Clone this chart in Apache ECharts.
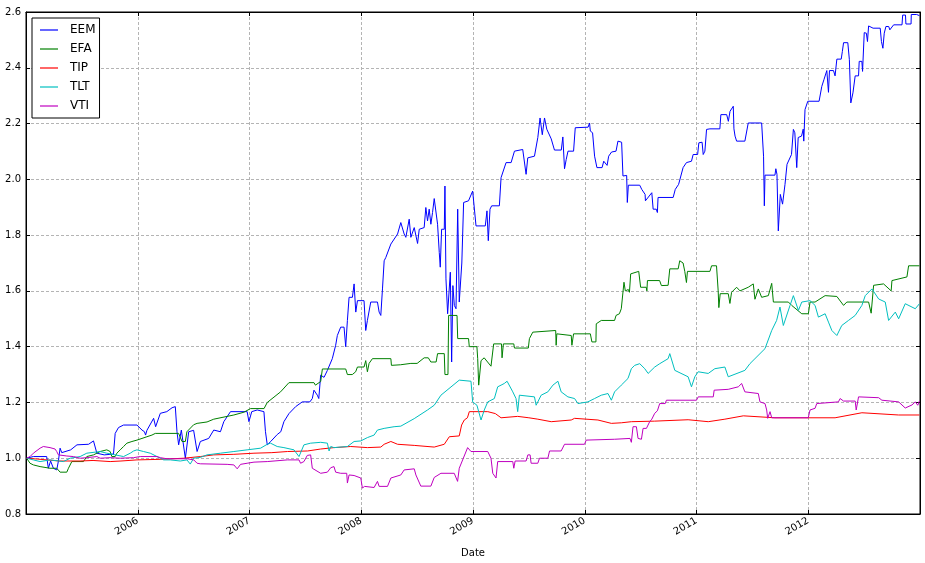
<!DOCTYPE html>
<html>
<head>
<meta charset="utf-8">
<script src="https://cdn.jsdelivr.net/npm/echarts@6/dist/echarts.min.js"></script>
<style>html,body{margin:0;padding:0;background:#fff;}#c{width:925px;height:563px;}</style>
</head>
<body>
<div id="c"></div>
<script>
// x = date as decimal year, y = cumulative value
const seriesNames = ['EEM', 'EFA', 'TIP', 'TLT', 'VTI'];
const yTicks = [0.8, 1.0, 1.2, 1.4, 1.6, 1.8, 2.0, 2.2, 2.4, 2.6];
const xTickYears = [2006, 2007, 2008, 2009, 2010, 2011, 2012];

const eem = [[2005.006,1.000],[2005.066,1.006],[2005.185,1.006],[2005.200,0.964],[2005.220,0.990],[2005.245,0.964],[2005.275,0.958],[2005.290,0.990],[2005.305,1.036],[2005.320,1.020],[2005.335,1.024],[2005.400,1.030],[2005.456,1.048],[2005.560,1.050],[2005.604,1.062],[2005.634,1.018],[2005.700,1.012],[2005.783,1.015],[2005.798,1.089],[2005.828,1.110],[2005.873,1.119],[2005.993,1.119],[2006.038,1.101],[2006.060,1.095],[2006.070,1.083],[2006.082,1.100],[2006.142,1.143],[2006.160,1.113],[2006.202,1.161],[2006.260,1.167],[2006.307,1.181],[2006.336,1.185],[2006.351,1.095],[2006.366,1.048],[2006.390,1.101],[2006.426,1.000],[2006.456,1.095],[2006.500,1.100],[2006.531,1.024],[2006.560,1.060],[2006.635,1.071],[2006.680,1.101],[2006.740,1.095],[2006.770,1.131],[2006.830,1.167],[2006.979,1.167],[2006.995,1.131],[2007.020,1.167],[2007.069,1.173],[2007.129,1.167],[2007.143,1.095],[2007.159,1.048],[2007.190,1.060],[2007.248,1.085],[2007.280,1.095],[2007.308,1.131],[2007.353,1.160],[2007.413,1.185],[2007.472,1.202],[2007.540,1.202],[2007.562,1.214],[2007.577,1.244],[2007.607,1.226],[2007.620,1.214],[2007.637,1.298],[2007.667,1.290],[2007.697,1.315],[2007.741,1.357],[2007.771,1.405],[2007.786,1.440],[2007.816,1.470],[2007.846,1.470],[2007.861,1.400],[2007.876,1.494],[2007.891,1.577],[2007.921,1.577],[2007.936,1.625],[2007.951,1.524],[2007.966,1.565],[2008.025,1.565],[2008.040,1.458],[2008.055,1.494],[2008.085,1.560],[2008.145,1.560],[2008.160,1.524],[2008.175,1.512],[2008.190,1.607],[2008.205,1.708],[2008.220,1.720],[2008.265,1.768],[2008.325,1.804],[2008.354,1.845],[2008.384,1.804],[2008.399,1.792],[2008.429,1.857],[2008.444,1.792],[2008.474,1.827],[2008.489,1.827],[2008.504,1.770],[2008.519,1.821],[2008.563,1.827],[2008.578,1.899],[2008.593,1.851],[2008.608,1.893],[2008.623,1.839],[2008.638,1.881],[2008.653,1.931],[2008.668,1.931],[2008.683,1.839],[2008.698,1.738],[2008.707,1.685],[2008.719,1.821],[2008.743,1.821],[2008.749,1.976],[2008.758,1.643],[2008.773,1.518],[2008.797,1.667],[2008.809,1.345],[2008.820,1.619],[2008.833,1.548],[2008.848,1.536],[2008.863,1.893],[2008.877,1.560],[2008.900,1.700],[2008.916,1.917],[2008.960,1.923],[2008.997,1.958],[2009.012,1.958],[2009.027,1.833],[2009.110,1.833],[2009.125,1.887],[2009.137,1.780],[2009.152,1.893],[2009.167,1.905],[2009.236,1.905],[2009.251,2.006],[2009.296,2.060],[2009.341,2.060],[2009.371,2.101],[2009.445,2.107],[2009.475,2.018],[2009.490,2.077],[2009.550,2.083],[2009.580,2.150],[2009.600,2.220],[2009.620,2.160],[2009.640,2.220],[2009.660,2.180],[2009.700,2.145],[2009.729,2.105],[2009.790,2.105],[2009.804,2.152],[2009.819,2.038],[2009.834,2.071],[2009.850,2.101],[2009.900,2.101],[2009.915,2.185],[2010.030,2.187],[2010.043,2.202],[2010.050,2.173],[2010.070,2.167],[2010.088,2.083],[2010.109,2.042],[2010.155,2.042],[2010.170,2.065],[2010.200,2.050],[2010.214,2.083],[2010.240,2.098],[2010.280,2.101],[2010.297,2.137],[2010.330,2.133],[2010.342,2.012],[2010.375,2.014],[2010.381,1.917],[2010.390,1.979],[2010.492,1.979],[2010.510,1.964],[2010.540,1.946],[2010.543,1.923],[2010.600,1.952],[2010.612,1.893],[2010.640,1.893],[2010.650,1.881],[2010.656,1.935],[2010.791,1.935],[2010.810,1.964],[2010.840,1.982],[2010.880,2.042],[2010.910,2.060],[2010.955,2.065],[2010.970,2.089],[2011.010,2.089],[2011.021,2.131],[2011.050,2.133],[2011.060,2.089],[2011.075,2.101],[2011.090,2.179],[2011.120,2.181],[2011.209,2.181],[2011.218,2.232],[2011.270,2.232],[2011.285,2.208],[2011.300,2.244],[2011.315,2.244],[2011.329,2.262],[2011.335,2.181],[2011.345,2.155],[2011.359,2.137],[2011.433,2.137],[2011.463,2.202],[2011.583,2.202],[2011.600,2.083],[2011.607,1.905],[2011.613,2.015],[2011.702,2.015],[2011.710,2.038],[2011.720,2.018],[2011.732,1.815],[2011.750,1.946],[2011.770,1.911],[2011.792,1.982],[2011.810,2.054],[2011.850,2.089],[2011.867,2.179],[2011.880,2.167],[2011.897,2.042],[2011.910,2.150],[2011.940,2.155],[2011.955,2.180],[2011.960,2.137],[2011.971,2.250],[2011.996,2.280],[2012.097,2.280],[2012.121,2.333],[2012.140,2.357],[2012.166,2.390],[2012.181,2.312],[2012.190,2.390],[2012.226,2.390],[2012.240,2.371],[2012.256,2.431],[2012.295,2.431],[2012.305,2.458],[2012.316,2.490],[2012.354,2.490],[2012.368,2.429],[2012.381,2.274],[2012.400,2.310],[2012.420,2.371],[2012.450,2.371],[2012.456,2.423],[2012.480,2.423],[2012.486,2.387],[2012.501,2.526],[2012.520,2.524],[2012.530,2.494],[2012.540,2.550],[2012.580,2.542],[2012.644,2.542],[2012.655,2.494],[2012.668,2.470],[2012.680,2.524],[2012.695,2.548],[2012.720,2.548],[2012.730,2.536],[2012.764,2.554],[2012.839,2.554],[2012.845,2.589],[2012.870,2.589],[2012.874,2.557],[2012.920,2.557],[2012.922,2.591],[2012.970,2.591],[2012.995,2.587]];

const efa = [[2005.006,1.000],[2005.036,0.982],[2005.066,0.976],[2005.126,0.970],[2005.215,0.964],[2005.275,0.964],[2005.305,0.950],[2005.365,0.950],[2005.380,0.964],[2005.410,0.988],[2005.514,0.988],[2005.544,1.006],[2005.604,1.012],[2005.663,1.024],[2005.723,1.030],[2005.753,1.024],[2005.768,1.006],[2005.798,1.006],[2005.813,1.018],[2005.843,1.030],[2005.873,1.042],[2005.903,1.054],[2005.948,1.060],[2005.993,1.065],[2006.038,1.071],[2006.082,1.077],[2006.127,1.083],[2006.157,1.089],[2006.366,1.089],[2006.381,1.083],[2006.396,1.060],[2006.426,1.060],[2006.440,1.095],[2006.500,1.120],[2006.531,1.125],[2006.620,1.130],[2006.680,1.140],[2006.860,1.155],[2006.950,1.165],[2007.009,1.178],[2007.130,1.178],[2007.159,1.200],[2007.278,1.238],[2007.353,1.271],[2007.577,1.271],[2007.590,1.262],[2007.637,1.275],[2007.652,1.320],[2007.861,1.320],[2007.876,1.300],[2007.920,1.300],[2007.950,1.310],[2007.966,1.327],[2008.025,1.327],[2008.040,1.350],[2008.055,1.310],[2008.070,1.340],[2008.100,1.357],[2008.265,1.357],[2008.270,1.333],[2008.350,1.335],[2008.444,1.340],[2008.500,1.340],[2008.563,1.360],[2008.600,1.360],[2008.623,1.345],[2008.670,1.345],[2008.683,1.375],[2008.743,1.375],[2008.749,1.300],[2008.776,1.300],[2008.782,1.512],[2008.857,1.512],[2008.863,1.429],[2008.960,1.429],[2008.967,1.400],[2009.035,1.400],[2009.042,1.357],[2009.051,1.262],[2009.072,1.350],[2009.100,1.360],[2009.161,1.330],[2009.185,1.410],[2009.255,1.410],[2009.260,1.360],[2009.272,1.410],[2009.365,1.410],[2009.371,1.395],[2009.495,1.395],[2009.505,1.429],[2009.535,1.452],[2009.740,1.458],[2009.744,1.405],[2009.750,1.446],[2009.879,1.440],[2009.885,1.405],[2009.900,1.446],[2010.050,1.446],[2010.064,1.417],[2010.100,1.417],[2010.103,1.482],[2010.148,1.494],[2010.267,1.494],[2010.280,1.512],[2010.310,1.518],[2010.327,1.536],[2010.351,1.631],[2010.363,1.600],[2010.390,1.605],[2010.400,1.595],[2010.411,1.661],[2010.483,1.670],[2010.500,1.613],[2010.550,1.613],[2010.556,1.600],[2010.561,1.637],[2010.670,1.637],[2010.686,1.619],[2010.746,1.620],[2010.761,1.679],[2010.836,1.679],[2010.850,1.708],[2010.880,1.700],[2010.895,1.670],[2010.910,1.630],[2010.919,1.670],[2011.120,1.670],[2011.135,1.690],[2011.179,1.690],[2011.194,1.600],[2011.200,1.540],[2011.212,1.590],[2011.284,1.590],[2011.299,1.555],[2011.314,1.595],[2011.359,1.613],[2011.389,1.600],[2011.463,1.613],[2011.508,1.625],[2011.523,1.570],[2011.553,1.607],[2011.583,1.577],[2011.643,1.583],[2011.673,1.627],[2011.688,1.560],[2011.822,1.560],[2011.852,1.548],[2011.942,1.518],[2012.001,1.518],[2012.016,1.560],[2012.061,1.560],[2012.151,1.583],[2012.256,1.580],[2012.316,1.548],[2012.345,1.560],[2012.540,1.560],[2012.563,1.520],[2012.585,1.620],[2012.674,1.625],[2012.742,1.600],[2012.749,1.637],[2012.883,1.650],[2012.898,1.690],[2012.995,1.690]];

const tip = [[2005.006,1.000],[2005.100,0.997],[2005.185,0.994],[2005.300,0.990],[2005.484,0.990],[2005.600,0.992],[2005.753,0.988],[2005.850,0.990],[2005.993,0.994],[2006.200,0.996],[2006.410,1.000],[2006.560,1.006],[2006.680,1.012],[2006.860,1.014],[2007.040,1.018],[2007.200,1.020],[2007.340,1.024],[2007.520,1.026],[2007.637,1.033],[2007.756,1.038],[2007.906,1.042],[2008.055,1.038],[2008.175,1.040],[2008.205,1.050],[2008.265,1.060],[2008.325,1.050],[2008.474,1.046],[2008.653,1.040],[2008.743,1.050],[2008.788,1.077],[2008.877,1.080],[2008.898,1.119],[2008.922,1.137],[2008.950,1.145],[2008.967,1.167],[2009.132,1.167],[2009.200,1.160],[2009.251,1.145],[2009.400,1.150],[2009.500,1.145],[2009.580,1.140],[2009.700,1.131],[2009.879,1.137],[2009.909,1.143],[2010.118,1.137],[2010.238,1.125],[2010.327,1.127],[2010.417,1.131],[2010.626,1.133],[2010.925,1.138],[2011.105,1.131],[2011.254,1.140],[2011.419,1.152],[2011.702,1.145],[2012.000,1.145],[2012.240,1.145],[2012.480,1.163],[2012.809,1.155],[2012.995,1.155]];

const tlt = [[2005.006,1.000],[2005.066,0.994],[2005.126,0.988],[2005.215,0.994],[2005.335,0.988],[2005.395,1.000],[2005.484,1.006],[2005.544,1.018],[2005.663,1.024],[2005.723,1.018],[2005.798,1.012],[2005.873,1.006],[2005.933,1.018],[2005.963,1.026],[2005.993,1.030],[2006.052,1.024],[2006.112,1.018],[2006.172,1.006],[2006.232,0.994],[2006.291,0.994],[2006.381,0.990],[2006.440,0.994],[2006.470,0.979],[2006.500,1.000],[2006.560,1.003],[2006.620,1.012],[2006.740,1.018],[2006.860,1.024],[2006.979,1.030],[2007.099,1.036],[2007.159,1.050],[2007.188,1.054],[2007.248,1.042],[2007.308,1.038],[2007.398,1.030],[2007.443,1.006],[2007.487,1.048],[2007.547,1.054],[2007.637,1.057],[2007.697,1.054],[2007.712,1.026],[2007.727,1.042],[2007.756,1.038],[2007.876,1.042],[2007.936,1.060],[2007.996,1.062],[2008.055,1.074],[2008.115,1.083],[2008.145,1.101],[2008.205,1.107],[2008.294,1.113],[2008.354,1.115],[2008.474,1.142],[2008.593,1.173],[2008.653,1.190],[2008.713,1.226],[2008.877,1.280],[2008.982,1.276],[2008.997,1.202],[2009.035,1.190],[2009.050,1.196],[2009.072,1.137],[2009.101,1.173],[2009.132,1.202],[2009.191,1.214],[2009.221,1.256],[2009.251,1.262],[2009.280,1.268],[2009.305,1.276],[2009.356,1.238],[2009.385,1.214],[2009.400,1.167],[2009.415,1.226],[2009.550,1.220],[2009.565,1.190],[2009.610,1.226],[2009.670,1.238],[2009.715,1.262],[2009.760,1.276],[2009.789,1.238],[2009.849,1.220],[2009.909,1.214],[2009.939,1.196],[2010.028,1.202],[2010.088,1.214],[2010.148,1.226],[2010.208,1.232],[2010.238,1.208],[2010.267,1.238],[2010.327,1.262],[2010.387,1.286],[2010.417,1.321],[2010.447,1.333],[2010.492,1.339],[2010.537,1.321],[2010.567,1.304],[2010.626,1.327],[2010.671,1.339],[2010.746,1.357],[2010.761,1.375],[2010.806,1.315],[2010.925,1.292],[2010.955,1.256],[2010.985,1.292],[2011.015,1.310],[2011.105,1.304],[2011.164,1.321],[2011.254,1.327],[2011.284,1.292],[2011.433,1.315],[2011.478,1.339],[2011.523,1.357],[2011.613,1.393],[2011.673,1.458],[2011.717,1.494],[2011.747,1.542],[2011.777,1.476],[2011.837,1.548],[2011.867,1.583],[2011.912,1.530],[2011.942,1.560],[2012.016,1.565],[2012.061,1.548],[2012.091,1.506],[2012.151,1.518],[2012.181,1.488],[2012.211,1.458],[2012.256,1.440],[2012.300,1.476],[2012.360,1.494],[2012.420,1.512],[2012.480,1.548],[2012.510,1.583],[2012.570,1.607],[2012.630,1.571],[2012.689,1.560],[2012.719,1.494],[2012.779,1.524],[2012.809,1.500],[2012.868,1.554],[2012.958,1.536],[2012.995,1.554]];

const vti = [[2005.006,1.000],[2005.036,1.006],[2005.066,1.018],[2005.126,1.036],[2005.155,1.042],[2005.215,1.038],[2005.260,1.033],[2005.275,1.024],[2005.290,1.012],[2005.305,1.006],[2005.365,1.008],[2005.425,1.006],[2005.484,1.000],[2005.544,1.002],[2005.634,1.006],[2005.663,1.000],[2005.753,1.002],[2005.843,1.000],[2005.963,1.002],[2006.022,1.006],[2006.172,1.006],[2006.202,1.002],[2006.262,0.998],[2006.440,0.998],[2006.501,0.994],[2006.531,0.982],[2006.560,0.980],[2006.800,0.978],[2006.860,0.976],[2006.890,0.962],[2006.920,0.978],[2006.979,0.982],[2007.040,0.986],[2007.159,0.988],[2007.338,0.994],[2007.443,0.994],[2007.457,0.982],[2007.487,0.988],[2007.517,1.010],[2007.547,1.012],[2007.562,0.964],[2007.637,0.946],[2007.697,0.950],[2007.727,0.966],[2007.756,0.970],[2007.771,0.950],[2007.816,0.946],[2007.870,0.946],[2007.876,0.911],[2007.891,0.940],[2007.936,0.938],[2007.996,0.929],[2008.010,0.893],[2008.030,0.899],[2008.115,0.895],[2008.145,0.917],[2008.160,0.899],[2008.235,0.899],[2008.265,0.929],[2008.354,0.940],[2008.384,0.958],[2008.474,0.962],[2008.489,0.940],[2008.533,0.900],[2008.623,0.900],[2008.653,0.931],[2008.713,0.946],[2008.832,0.946],[2008.862,0.917],[2008.877,0.964],[2008.952,1.038],[2008.982,1.024],[2009.132,1.024],[2009.161,1.000],[2009.177,0.946],[2009.206,0.929],[2009.221,0.988],[2009.356,0.988],[2009.365,0.964],[2009.377,0.990],[2009.475,0.990],[2009.491,1.012],[2009.511,1.012],[2009.520,0.982],[2009.580,0.982],[2009.595,1.000],[2009.670,1.000],[2009.685,1.026],[2009.789,1.026],[2009.819,1.050],[2009.998,1.050],[2010.013,1.065],[2010.267,1.068],[2010.405,1.071],[2010.417,1.057],[2010.432,1.113],[2010.462,1.113],[2010.477,1.071],[2010.507,1.068],[2010.522,1.107],[2010.552,1.107],[2010.581,1.131],[2010.600,1.140],[2010.626,1.161],[2010.650,1.170],[2010.671,1.196],[2010.720,1.196],[2010.731,1.208],[2011.000,1.208],[2011.015,1.220],[2011.150,1.220],[2011.158,1.244],[2011.284,1.247],[2011.374,1.256],[2011.404,1.268],[2011.433,1.238],[2011.553,1.232],[2011.568,1.202],[2011.613,1.196],[2011.628,1.173],[2011.637,1.143],[2011.658,1.167],[2011.673,1.145],[2012.000,1.145],[2012.016,1.173],[2012.061,1.179],[2012.076,1.196],[2012.270,1.202],[2012.285,1.214],[2012.316,1.205],[2012.420,1.205],[2012.429,1.173],[2012.450,1.220],[2012.630,1.217],[2012.659,1.208],[2012.809,1.202],[2012.868,1.180],[2012.928,1.191],[2012.958,1.202],[2012.980,1.190],[2012.995,1.205]];

const seriesData = [eem, efa, tip, tlt, vti];
const colors = ['#0000ff', '#008000', '#ff0000', '#00bfbf', '#bf00bf'];

const FONT = 'DejaVu Sans';
const gridLine = { show: true, lineStyle: { color: '#b4b4b4', type: [3, 2], width: 1 } };

const chart = echarts.init(document.getElementById('c'), null, { renderer: 'canvas' });
chart.setOption({
  animation: false,
  backgroundColor: '#ffffff',
  grid: { left: 26, right: 5, top: 12, bottom: 47, show: true, borderColor: '#000', borderWidth: 1, backgroundColor: 'transparent' },
  legend: {
    data: seriesNames,
    orient: 'vertical',
    left: 32, top: 18,
    icon: 'rect', itemWidth: 18, itemHeight: 1.2, itemGap: 5,
    padding: [5, 4, 5, 8],
    borderColor: '#000', borderWidth: 1, backgroundColor: '#fff',
    textStyle: { fontFamily: FONT, fontSize: 12, color: '#000', padding: [0, 0, 0, 7], lineHeight: 14 }
  },
  xAxis: [{
    type: 'value', min: 2005, max: 2013, interval: 1,
    name: 'Date', nameLocation: 'middle', nameGap: 34,
    nameTextStyle: { fontFamily: FONT, fontSize: 10, color: '#000' },
    axisLine: { show: true, lineStyle: { color: '#000' } },
    axisTick: { show: true, inside: true, length: 4, lineStyle: { color: '#000' } },
    axisLabel: {
      rotate: 30, margin: 6, fontFamily: FONT, fontSize: 10, color: '#000',
      formatter: v => (xTickYears.indexOf(Math.round(v)) >= 0 ? String(Math.round(v)) : '')
    },
    splitLine: gridLine
  }, {
    type: 'value', min: 2005, max: 2013, interval: 1, position: 'top',
    axisLine: { show: true, lineStyle: { color: '#000' } },
    axisTick: { show: true, inside: true, length: 4, lineStyle: { color: '#000' } },
    axisLabel: { show: false }, splitLine: { show: false }
  }],
  yAxis: [{
    type: 'value', min: 0.8, max: 2.6, interval: 0.2,
    axisLine: { show: true, lineStyle: { color: '#000' } },
    axisTick: { show: true, inside: true, length: 4, lineStyle: { color: '#000' } },
    axisLabel: { margin: 5, fontFamily: FONT, fontSize: 10, color: '#000', formatter: v => v.toFixed(1) },
    splitLine: gridLine
  }, {
    type: 'value', min: 0.8, max: 2.6, interval: 0.2, position: 'right',
    axisLine: { show: true, lineStyle: { color: '#000' } },
    axisTick: { show: true, inside: true, length: 4, lineStyle: { color: '#000' } },
    axisLabel: { show: false }, splitLine: { show: false }
  }],
  series: seriesNames.map((name, i) => ({
    name: name,
    type: 'line',
    xAxisIndex: 0, yAxisIndex: 0,
    data: seriesData[i],
    showSymbol: false, symbol: 'none',
    color: colors[i],
    lineStyle: { color: colors[i], width: 1 },
    emphasis: { disabled: true }
  }))
});
</script>
</body>
</html>
